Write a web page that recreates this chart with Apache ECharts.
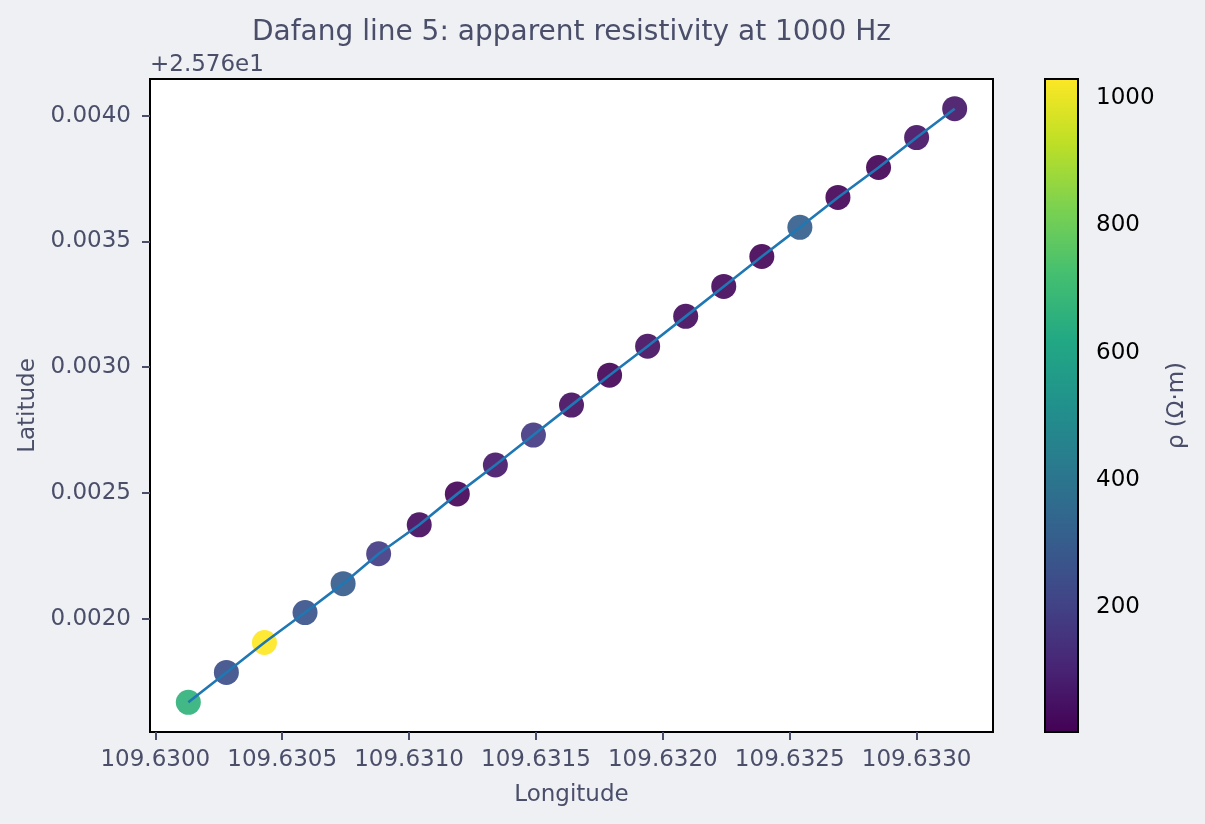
<!DOCTYPE html>
<html>
<head>
<meta charset="utf-8">
<script src="https://cdn.jsdelivr.net/npm/echarts@6/dist/echarts.min.js"></script>
<style>
    html, body { margin: 0; padding: 0; background: #eff0f4; }
    #chart { width: 1205px; height: 824px; }
</style>
</head>
<body>
<div id="chart"></div>
<script>
    // station coordinates along the line
    var lon = [109.63013, 109.63028, 109.63043, 109.63059, 109.63074, 109.63088, 109.63104,
               109.63119, 109.63134, 109.63149, 109.63164, 109.63179, 109.63194, 109.63209,
               109.63224, 109.63239, 109.63254, 109.63269, 109.63285, 109.63300, 109.63315];
    var lat = [25.761667, 25.761786, 25.761905, 25.762024, 25.762139, 25.762258, 25.762373,
               25.762496, 25.762611, 25.762730, 25.762849, 25.762968, 25.763083, 25.763202,
               25.763321, 25.763440, 25.763556, 25.763675, 25.763794, 25.763913, 25.764028];
    // apparent resistivity at 1000 Hz (ohm-m)
    var rho = [665, 250, 1030, 270, 300, 185, 40, 18, 75, 180, 45,
               15, 50, 40, 30, 20, 310, 20, 12, 60, 70];

    var xTicks = [109.6300, 109.6305, 109.6310, 109.6315, 109.6320, 109.6325, 109.6330];
    var yTicks = [25.7620, 25.7625, 25.7630, 25.7635, 25.7640];
    var cbTicks = [200, 400, 600, 800, 1000];
    var latOffset = 25.76;
    var rhoMin = 4, rhoMax = 1030;

    var viridis = ['#440154', '#482475', '#414487', '#355f8d', '#2a788e', '#21918c',
                   '#22a884', '#44bf70', '#7ad151', '#bddf26', '#fde725'];

    var textColor = '#4a4e69';
    var font = 'DejaVu Sans';

    var scatterData = [], lineData = [];
    for (var i = 0; i < lon.length; i++) {
        scatterData.push([lon[i], lat[i], rho[i]]);
        lineData.push([lon[i], lat[i]]);
    }
    var stops = viridis.map(function (c, k) {
        return { offset: k / (viridis.length - 1), color: c };
    });

    var myChart = echarts.init(document.getElementById('chart'));
    var option = {
        backgroundColor: '#eff0f4',
        animation: false,
        textStyle: { fontFamily: font },
        graphic: [
            {
                type: 'text', x: 571.5, y: 33,
                style: {
                    text: 'Dafang line 5: apparent resistivity at 1000 Hz',
                    font: '28px "DejaVu Sans"', fill: textColor,
                    textAlign: 'center', textVerticalAlign: 'middle'
                }
            },
            {
                type: 'text', x: 150, y: 65,
                style: {
                    text: '+2.576e1', font: '23px "DejaVu Sans"', fill: textColor,
                    textAlign: 'left', textVerticalAlign: 'middle'
                }
            }
        ],
        grid: [
            { left: 150, top: 79, right: 212, bottom: 92, show: true,
              backgroundColor: '#fff', borderColor: '#000', borderWidth: 2 },
            { left: 1045, top: 79, width: 33, bottom: 92 }
        ],
        visualMap: {
            show: false,
            seriesIndex: 0,
            dimension: 2,
            min: rhoMin,
            max: rhoMax,
            inRange: { color: viridis }
        },
        xAxis: [
            {
                type: 'value', gridIndex: 0,
                min: 109.629979, max: 109.633301,
                name: 'Longitude', nameLocation: 'middle', nameGap: 52,
                nameTextStyle: { color: textColor, fontSize: 23, fontFamily: font },
                axisLine: { show: false },
                splitLine: { show: false },
                axisTick: { show: true, length: 8, customValues: xTicks,
                            lineStyle: { color: textColor, width: 2 } },
                axisLabel: { customValues: xTicks, color: textColor, fontSize: 23, margin: 17,
                             formatter: function (v) { return v.toFixed(4); } }
            },
            {
                type: 'value', gridIndex: 1, min: 0, max: 1, show: false
            }
        ],
        yAxis: [
            {
                type: 'value', gridIndex: 0,
                min: 25.761549, max: 25.764146,
                name: 'Latitude', nameLocation: 'middle', nameGap: 108, nameRotate: 90,
                nameTextStyle: { color: textColor, fontSize: 23, fontFamily: font },
                axisLine: { show: false },
                splitLine: { show: false },
                axisTick: { show: true, length: 8, customValues: yTicks,
                            lineStyle: { color: textColor, width: 2 } },
                axisLabel: { customValues: yTicks, color: textColor, fontSize: 23, margin: 19,
                             formatter: function (v) { return (v - latOffset).toFixed(4); } }
            },
            {
                type: 'value', gridIndex: 1, position: 'right',
                min: rhoMin, max: rhoMax,
                name: 'ρ (Ω·m)', nameLocation: 'middle', nameGap: 88, nameRotate: 90,
                nameTextStyle: { color: textColor, fontSize: 23, fontFamily: font },
                axisLine: { show: false },
                splitLine: { show: false },
                axisTick: { show: true, length: 8, customValues: cbTicks,
                            lineStyle: { color: '#000', width: 2 } },
                axisLabel: { customValues: cbTicks, color: '#000', fontSize: 23, margin: 18,
                             formatter: function (v) { return String(v); } }
            }
        ],
        series: [
            {
                type: 'scatter',
                xAxisIndex: 0, yAxisIndex: 0,
                symbolSize: 25,
                itemStyle: { opacity: 0.92 },
                z: 2,
                data: scatterData
            },
            {
                type: 'line',
                xAxisIndex: 0, yAxisIndex: 0,
                symbol: 'none',
                lineStyle: { color: '#1f77b4', width: 2.6 },
                z: 3,
                data: lineData
            },
            {
                // colour bar
                type: 'custom',
                xAxisIndex: 1, yAxisIndex: 1,
                silent: true,
                data: [[rhoMin, rhoMax]],
                renderItem: function (params, api) {
                    var p0 = api.coord([0, api.value(0)]);
                    var p1 = api.coord([1, api.value(1)]);
                    return {
                        type: 'rect',
                        shape: { x: p0[0], y: p1[1], width: p1[0] - p0[0], height: p0[1] - p1[1] },
                        style: {
                            fill: new echarts.graphic.LinearGradient(0, 1, 0, 0, stops),
                            stroke: '#000', lineWidth: 2
                        }
                    };
                }
            }
        ]
    };
    myChart.setOption(option);
</script>
</body>
</html>
